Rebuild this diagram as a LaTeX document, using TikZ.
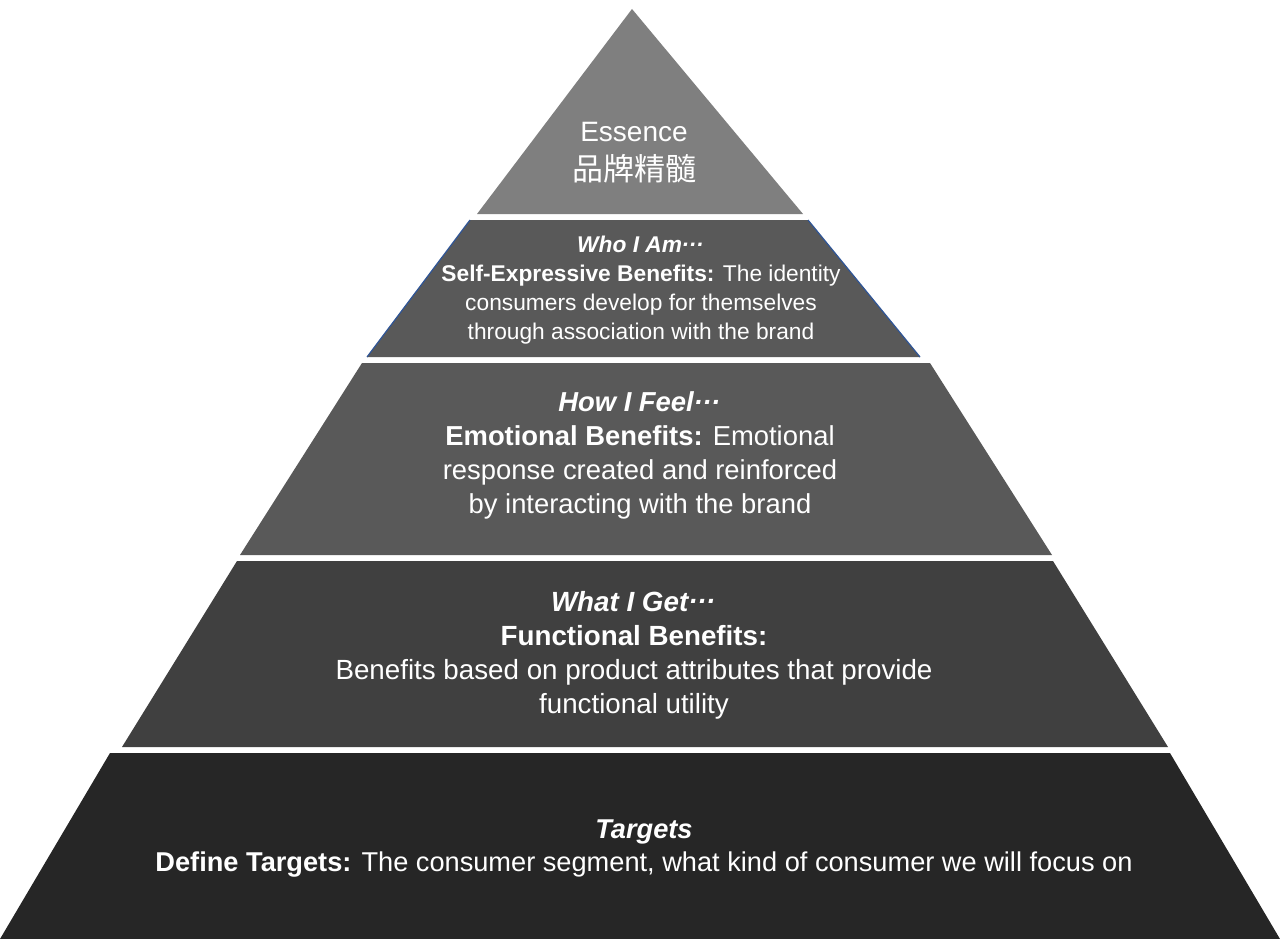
\documentclass[tikz,border=0pt]{standalone}
\usepackage{fontspec}
\setmainfont{Liberation Sans}
\newfontfamily\cjk{Noto Sans CJK SC}
\definecolor{lvA}{HTML}{7F7F7F}
\definecolor{lvB}{HTML}{595959}
\definecolor{lvC}{HTML}{595959}
\definecolor{lvD}{HTML}{404040}
\definecolor{lvE}{HTML}{262626}
\definecolor{edgeblue}{HTML}{2F5597}
\tikzset{
  lbl/.style={text=white, align=center, inner sep=0pt},
  blueedge/.style={draw=edgeblue, line width=1.2pt},
}
\newcommand{\fsz}[2]{\fontsize{#1pt}{#2pt}\selectfont}
\newcommand{\hd}[1]{\textbf{\textit{#1}}\raisebox{0.28em}{\textbf{\textit{…}}}}
\begin{document}
\begin{tikzpicture}[x=1pt,y=-1pt]
\useasboundingbox (0,0) rectangle (1280,939);
% layers
\fill[lvA] (632,9) -- (803,214) -- (477,214) -- cycle;
\fill[lvB] (470,220) -- (808,220) -- (920,357) -- (367,357) -- cycle;
\draw[blueedge] (470,220) -- (367,357);
\draw[blueedge] (808,220) -- (920,357);
\fill[lvC] (362,363) -- (930,363) -- (1052,555) -- (240,555) -- cycle;
\fill[lvD] (237,561) -- (1053,561) -- (1168,747) -- (122,747) -- cycle;
\fill[lvE] (110,753) -- (1170,753) -- (1280,939) -- (0,939) -- cycle;
% texts
\node[lbl, font=\fsz{28}{39}] (essence) at (634,153)
  {Essence\\{\cjk\fsz{31}{39}品牌精髓}};
\node[lbl, font=\fsz{22.75}{29}] (who) at (641,290)
  {\hd{Who I Am}\\
   \textbf{Self-Expressive Benefits:} The identity\\
   consumers develop for themselves\\
   through association with the brand};
\node[lbl, font=\fsz{27.4}{33.8}] (feel) at (640,455.5)
  {\hd{How I Feel}\\
   \textbf{Emotional Benefits:} Emotional\\
   response created and reinforced\\
   by interacting with the brand};
\node[lbl, font=\fsz{27.75}{34}] (get) at (634,655)
  {\hd{What I Get}\\
   \textbf{Functional Benefits:}\\
   Benefits based on product attributes that provide\\
   functional utility};
\node[lbl, font=\fsz{27.2}{33}] (targets) at (644,849)
  {\textbf{\textit{Targets}}\\
   \textbf{Define Targets:} The consumer segment, what kind of consumer we will focus on};
\end{tikzpicture}
\end{document}
